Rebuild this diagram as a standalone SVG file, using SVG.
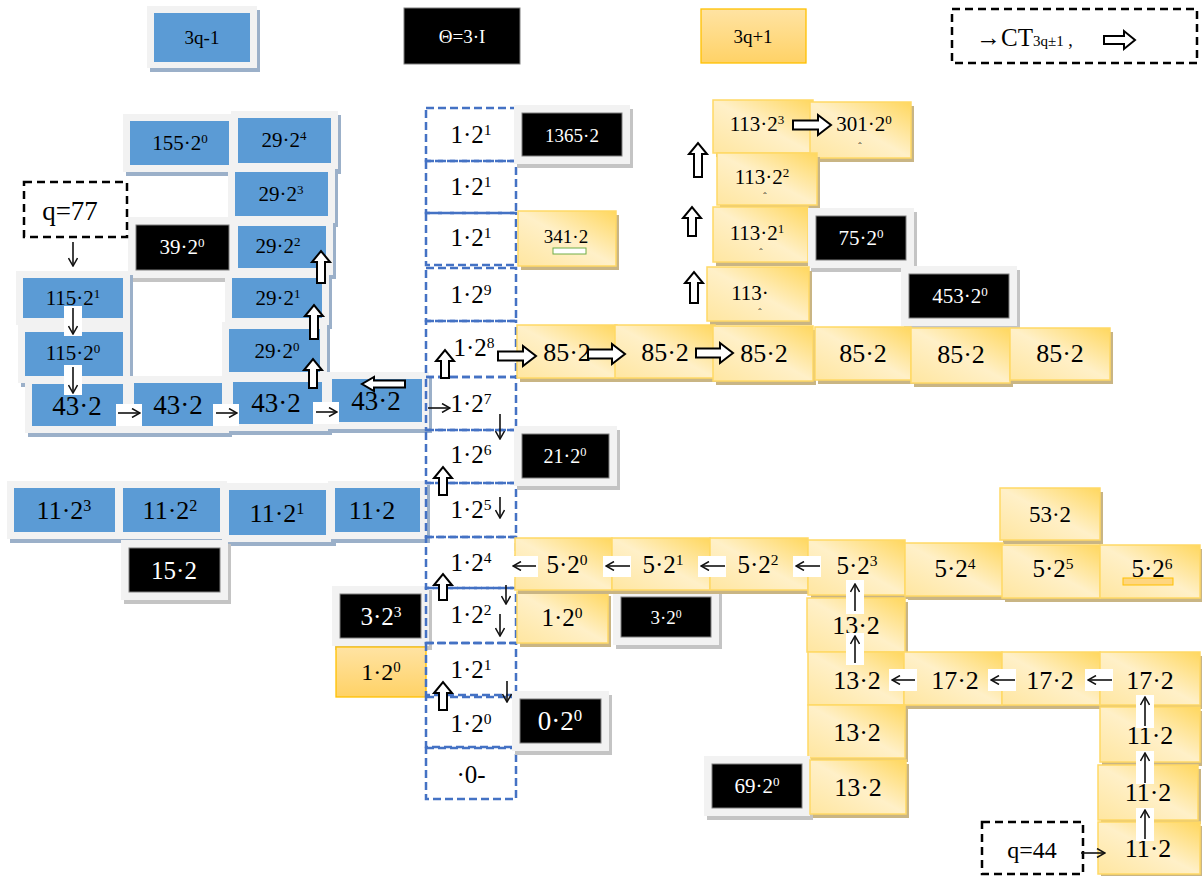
<svg xmlns="http://www.w3.org/2000/svg" width="1202" height="876" viewBox="0 0 1202 876">
<style>
.t{font-family:"Liberation Serif","Times New Roman",serif;text-anchor:middle;fill:#000}
.w{fill:#fff}
.s{font-size:62%;baseline-shift:super}
.bfr{fill:#f2f2f2}
.bsh{fill:#9bb0c9}
.bl{fill:#5b9bd5}
.kfr{fill:#f2f2f2}
.ksh{fill:#c4c4c4}
.k{fill:#000;stroke:#7f7f7f;stroke-width:1}
.osh{fill:#c9b584}
.or{fill:url(#og);stroke:#ffd966;stroke-width:1.5}
.po{fill:url(#pg);stroke:#ffc000;stroke-width:1.3}
.col{fill:none;stroke:#4472c4;stroke-width:2.5;stroke-dasharray:8 4}
.qd{fill:none;stroke:#000;stroke-width:2.5;stroke-dasharray:8 5}
.ln{stroke:#111;stroke-width:1.6;fill:none;marker-end:url(#ah)}
.bg{fill:#fff}
.blk{fill:#fff;stroke:#000;stroke-width:2}
</style>
<defs>
<linearGradient id="og" x1="1" y1="0" x2="0" y2="1">
<stop offset="0" stop-color="#ffd75e"/><stop offset="0.5" stop-color="#fff0c8"/><stop offset="1" stop-color="#ffe6a0"/>
</linearGradient>
<linearGradient id="pg" x1="0" y1="0" x2="0" y2="1">
<stop offset="0" stop-color="#ffe3a3"/><stop offset="1" stop-color="#ffd266"/>
</linearGradient>
<marker id="ah" viewBox="0 0 10 10" refX="9" refY="5" markerWidth="10" markerHeight="10" markerUnits="userSpaceOnUse" orient="auto">
<path d="M1,0.5 L9,5 L1,9.5" fill="none" stroke="#111" stroke-width="1.5"/>
</marker>
</defs>
<rect width="1202" height="876" fill="#fff"/>

<!-- legend -->
<g id="legend-blue"><rect class="bsh" x="150" y="10" width="110" height="62"/><rect class="bfr" x="147" y="6" width="110" height="62"/><rect class="bl" x="154" y="13" width="96" height="49"/><text class="t" x="202" y="44" font-size="19">3q-1</text></g>
<g id="legend-black"><rect class="k" x="404" y="8" width="116" height="56"/><text class="t w" x="462" y="43" font-size="19">Θ=3·I</text></g>
<g id="legend-orange"><rect class="po" x="701" y="9" width="105" height="54"/><text class="t" x="753" y="43" font-size="19">3q+1</text></g>
<g id="legend-ct"><rect class="qd" x="952" y="9" width="245" height="54"/><text x="976" y="46" font-family="Liberation Serif, serif" font-size="25">→CT<tspan font-size="15">3q±1</tspan><tspan font-size="18"> ,</tspan></text><path class="blk" d="M1104,36 H1124 V31 L1135,40 L1124,49 V44 H1104 Z"/></g>

<!-- blue nodes -->
<g id="n155"><rect class="bsh" x="126" y="118" width="113" height="58"/><rect class="bfr" x="123" y="114" width="113" height="58"/><rect class="bl" x="130" y="121" width="99" height="44"/><text class="t" x="180" y="150" font-size="21">155·2<tspan class="s">0</tspan></text></g>
<g id="n29-4"><rect class="bsh" x="234" y="115" width="107" height="59"/><rect class="bfr" x="231" y="111" width="107" height="59"/><rect class="bl" x="238" y="118" width="93" height="45"/><text class="t" x="284" y="147" font-size="21">29·2<tspan class="s">4</tspan></text></g>
<g id="n29-3"><rect class="bsh" x="231" y="169" width="107" height="58"/><rect class="bfr" x="228" y="165" width="107" height="58"/><rect class="bl" x="235" y="172" width="93" height="44"/><text class="t" x="281" y="201" font-size="21">29·2<tspan class="s">3</tspan></text></g>
<g id="n39"><rect class="ksh" x="131" y="221" width="109" height="61"/><rect class="kfr" x="128" y="217" width="109" height="61"/><rect class="k" x="136" y="225" width="93" height="45"/><text class="t w" x="182" y="254" font-size="21">39·2<tspan class="s">0</tspan></text></g>
<g id="n29-2"><rect class="bsh" x="234" y="223" width="102" height="56"/><rect class="bfr" x="231" y="219" width="102" height="56"/><rect class="bl" x="238" y="226" width="88" height="42"/><text class="t" x="278" y="253" font-size="21">29·2<tspan class="s">2</tspan></text></g>
<g id="n29-1"><rect class="bsh" x="228" y="275" width="104" height="54"/><rect class="bfr" x="225" y="271" width="104" height="54"/><rect class="bl" x="232" y="278" width="90" height="40"/><text class="t" x="278" y="305" font-size="21">29·2<tspan class="s">1</tspan></text></g>
<g id="n29-0"><rect class="bsh" x="225" y="326" width="105" height="57"/><rect class="bfr" x="222" y="322" width="105" height="57"/><rect class="bl" x="229" y="329" width="91" height="43"/><text class="t" x="277" y="358" font-size="21">29·2<tspan class="s">0</tspan></text></g>
<g id="n115-1"><rect class="bsh" x="19" y="275" width="114" height="54"/><rect class="bfr" x="16" y="271" width="114" height="54"/><rect class="bl" x="23" y="278" width="100" height="40"/><text class="t" x="73" y="305" font-size="21">115·2<tspan class="s">1</tspan></text></g>
<g id="n115-0"><rect class="bsh" x="21" y="329" width="112" height="58"/><rect class="bfr" x="18" y="325" width="112" height="58"/><rect class="bl" x="25" y="332" width="98" height="44"/><text class="t" x="73" y="360" font-size="21">115·2<tspan class="s">0</tspan></text></g>
<g id="n43a"><rect class="bsh" x="28" y="381" width="105" height="56"/><rect class="bfr" x="25" y="377" width="105" height="56"/><rect class="bl" x="32" y="384" width="91" height="42"/><text class="t" x="77" y="415" font-size="27">43·2</text></g>
<g id="n43b"><rect class="bsh" x="130" y="380" width="102" height="57"/><rect class="bfr" x="127" y="376" width="102" height="57"/><rect class="bl" x="134" y="383" width="88" height="43"/><text class="t" x="178" y="414" font-size="27">43·2</text></g>
<g id="n43c"><rect class="bsh" x="229" y="379" width="103" height="56"/><rect class="bfr" x="226" y="375" width="103" height="56"/><rect class="bl" x="233" y="382" width="89" height="42"/><text class="t" x="276" y="412" font-size="27">43·2</text></g>
<g id="n43d"><rect class="bsh" x="328" y="376" width="104" height="57"/><rect class="bfr" x="325" y="372" width="104" height="57"/><rect class="bl" x="332" y="379" width="90" height="43"/><text class="t" x="376" y="410" font-size="27">43·2</text></g>
<g id="n11-3"><rect class="bsh" x="10" y="485" width="115" height="58"/><rect class="bfr" x="7" y="481" width="115" height="58"/><rect class="bl" x="14" y="488" width="101" height="44"/><text class="t" x="64" y="519" font-size="26">11·2<tspan class="s">3</tspan></text></g>
<g id="n11-2"><rect class="bsh" x="119" y="485" width="111" height="58"/><rect class="bfr" x="116" y="481" width="111" height="58"/><rect class="bl" x="123" y="488" width="97" height="44"/><text class="t" x="170" y="519" font-size="26">11·2<tspan class="s">2</tspan></text></g>
<g id="n11-1"><rect class="bsh" x="225" y="487" width="111" height="59"/><rect class="bfr" x="222" y="483" width="111" height="59"/><rect class="bl" x="229" y="490" width="97" height="45"/><text class="t" x="277" y="522" font-size="26">11·2<tspan class="s">1</tspan></text></g>
<g id="n11-l"><rect class="bsh" x="331" y="485" width="99" height="58"/><rect class="bfr" x="328" y="481" width="99" height="58"/><rect class="bl" x="335" y="488" width="85" height="44"/><text class="t" x="372" y="519" font-size="26">11·2</text></g>
<g id="n15"><rect class="ksh" x="124" y="544" width="107" height="60"/><rect class="kfr" x="121" y="540" width="107" height="60"/><rect class="k" x="129" y="548" width="91" height="44"/><text class="t w" x="174" y="579" font-size="25">15·2</text></g>
<g id="n3-3"><rect class="ksh" x="335" y="590" width="97" height="60"/><rect class="kfr" x="332" y="586" width="97" height="60"/><rect class="k" x="340" y="594" width="81" height="44"/><text class="t w" x="381" y="625" font-size="25">3·2<tspan class="s">3</tspan></text></g>
<g id="n1-0-left"><rect class="po" x="336" y="647" width="90" height="50"/><text class="t" x="381" y="680" font-size="24">1·2<tspan class="s">0</tspan></text></g>
<g id="q77"><rect class="qd" x="24" y="182" width="103" height="55"/><text class="t" x="70" y="220" font-size="27">q=77</text></g>

<!-- central column -->
<g id="c1"><rect class="col" x="426" y="108" width="90" height="53"/><text class="t" x="471" y="143" font-size="25">1·2<tspan class="s">1</tspan></text></g>
<g id="c2"><rect class="col" x="426" y="161" width="90" height="52"/><text class="t" x="471" y="195" font-size="25">1·2<tspan class="s">1</tspan></text></g>
<g id="c3"><rect class="col" x="426" y="213" width="90" height="52"/><text class="t" x="471" y="246" font-size="25">1·2<tspan class="s">1</tspan></text></g>
<g id="c4"><rect class="col" x="426" y="268" width="90" height="53"/><text class="t" x="471" y="303" font-size="25">1·2<tspan class="s">9</tspan></text></g>
<g id="c5"><rect class="col" x="426" y="321" width="90" height="56"/><text class="t" x="474" y="356" font-size="25">1·2<tspan class="s">8</tspan></text></g>
<g id="c6"><rect class="col" x="426" y="377" width="90" height="53"/><text class="t" x="471" y="412" font-size="25">1·2<tspan class="s">7</tspan></text></g>
<g id="c7"><rect class="col" x="426" y="430" width="90" height="53"/><text class="t" x="471" y="463" font-size="25">1·2<tspan class="s">6</tspan></text></g>
<g id="c8"><rect class="col" x="426" y="483" width="90" height="54"/><text class="t" x="471" y="518" font-size="25">1·2<tspan class="s">5</tspan></text></g>
<g id="c9"><rect class="col" x="426" y="537" width="90" height="51"/><text class="t" x="471" y="571" font-size="25">1·2<tspan class="s">4</tspan></text></g>
<g id="c10"><rect class="col" x="426" y="588" width="90" height="55"/><text class="t" x="471" y="623" font-size="25">1·2<tspan class="s">2</tspan></text></g>
<g id="c11"><rect class="col" x="426" y="643" width="90" height="52"/><text class="t" x="471" y="678" font-size="25">1·2<tspan class="s">1</tspan></text></g>
<g id="c12"><rect class="col" x="426" y="697" width="90" height="50"/><text class="t" x="471" y="732" font-size="25">1·2<tspan class="s">0</tspan></text></g>
<g id="c13"><rect class="col" x="426" y="748" width="90" height="51"/><text class="t" x="471" y="783" font-size="25">·0-</text></g>

<!-- right nodes -->
<g id="n1365"><rect class="ksh" x="517" y="109" width="116" height="59"/><rect class="kfr" x="514" y="105" width="116" height="59"/><rect class="k" x="522" y="113" width="100" height="43"/><text class="t w" x="572" y="142" font-size="19">1365·2</text></g>
<g id="n341"><rect class="osh" x="521" y="215" width="98" height="55"/><rect class="or" x="518" y="211" width="98" height="55"/><text class="t" x="566" y="243" font-size="19">341·2</text><rect x="553" y="248" width="33" height="6" fill="#fff" stroke="#70ad47" stroke-width="1"/></g>
<g id="n21"><rect class="ksh" x="517" y="430" width="103" height="60"/><rect class="kfr" x="514" y="426" width="103" height="60"/><rect class="k" x="522" y="434" width="87" height="44"/><text class="t w" x="565" y="463" font-size="20">21·2<tspan class="s">0</tspan></text></g>
<g id="n1-0-right"><rect class="osh" x="520" y="596" width="91" height="51"/><rect class="or" x="517" y="592" width="91" height="51"/><text class="t" x="562" y="626" font-size="25">1·2<tspan class="s">0</tspan></text></g>
<g id="n3-0"><rect class="ksh" x="616" y="593" width="106" height="56"/><rect class="kfr" x="613" y="589" width="106" height="56"/><rect class="k" x="621" y="597" width="90" height="40"/><text class="t w" x="666" y="624" font-size="19">3·2<tspan class="s">0</tspan></text></g>
<g id="n0-0"><rect class="ksh" x="515" y="695" width="97" height="60"/><rect class="kfr" x="512" y="691" width="97" height="60"/><rect class="k" x="520" y="699" width="81" height="44"/><text class="t w" x="560" y="730" font-size="27">0·2<tspan class="s">0</tspan></text></g>

<g id="n113-3"><rect class="osh" x="716" y="104" width="100" height="53"/><rect class="or" x="713" y="100" width="100" height="53"/><text class="t" x="757" y="131" font-size="21">113·2<tspan class="s">3</tspan></text></g>
<g id="n301"><rect class="osh" x="813" y="106" width="101" height="56"/><rect class="or" x="810" y="102" width="101" height="56"/><text class="t" x="864" y="131" font-size="21">301·2<tspan class="s">0</tspan></text><text class="t" x="860" y="150" font-size="10">ˆ</text></g>
<g id="n113-2"><rect class="osh" x="720" y="157" width="100" height="52"/><rect class="or" x="717" y="153" width="100" height="52"/><text class="t" x="762" y="184" font-size="21">113·2<tspan class="s">2</tspan></text><text class="t" x="765" y="200" font-size="10">ˆ</text></g>
<g id="n113-1"><rect class="osh" x="716" y="211" width="95" height="55"/><rect class="or" x="713" y="207" width="95" height="55"/><text class="t" x="757" y="240" font-size="21">113·2<tspan class="s">1</tspan></text><text class="t" x="761" y="256" font-size="10">ˆ</text></g>
<g id="n75"><rect class="ksh" x="811" y="212" width="106" height="60"/><rect class="kfr" x="808" y="208" width="106" height="60"/><rect class="k" x="816" y="216" width="90" height="44"/><text class="t w" x="861" y="245" font-size="21">75·2<tspan class="s">0</tspan></text></g>
<g id="n113"><rect class="osh" x="710" y="271" width="102" height="54"/><rect class="or" x="707" y="267" width="102" height="54"/><text class="t" x="750" y="300" font-size="21">113·</text><text class="t" x="760" y="316" font-size="10">ˆ</text></g>
<g id="n453"><rect class="ksh" x="904" y="270" width="116" height="60"/><rect class="kfr" x="901" y="266" width="116" height="60"/><rect class="k" x="909" y="274" width="100" height="44"/><text class="t w" x="960" y="303" font-size="21">453·2<tspan class="s">0</tspan></text></g>

<g id="n85a"><rect class="osh" x="520" y="329" width="100" height="53"/><rect class="or" x="517" y="325" width="100" height="53"/><text class="t" x="567" y="361" font-size="26">85·2</text></g>
<g id="n85b"><rect class="osh" x="618" y="329" width="100" height="53"/><rect class="or" x="615" y="325" width="100" height="53"/><text class="t" x="665" y="361" font-size="26">85·2</text></g>
<g id="n85c"><rect class="osh" x="716" y="330" width="100" height="55"/><rect class="or" x="713" y="326" width="100" height="55"/><text class="t" x="764" y="362" font-size="26">85·2</text></g>
<g id="n85d"><rect class="osh" x="818" y="331" width="96" height="53"/><rect class="or" x="815" y="327" width="96" height="53"/><text class="t" x="863" y="362" font-size="26">85·2</text></g>
<g id="n85e"><rect class="osh" x="914" y="332" width="99" height="55"/><rect class="or" x="911" y="328" width="99" height="55"/><text class="t" x="961" y="363" font-size="26">85·2</text></g>
<g id="n85f"><rect class="osh" x="1013" y="332" width="100" height="52"/><rect class="or" x="1010" y="328" width="100" height="52"/><text class="t" x="1060" y="362" font-size="26">85·2</text></g>

<g id="n53"><rect class="osh" x="1003" y="492" width="100" height="52"/><rect class="or" x="1000" y="488" width="100" height="52"/><text class="t" x="1050" y="522" font-size="23">53·2</text></g>
<g id="n5-0"><rect class="osh" x="518" y="542" width="97" height="52"/><rect class="or" x="515" y="538" width="97" height="52"/><text class="t" x="567" y="573" font-size="25">5·2<tspan class="s">0</tspan></text></g>
<g id="n5-1"><rect class="osh" x="615" y="542" width="98" height="52"/><rect class="or" x="612" y="538" width="98" height="52"/><text class="t" x="663" y="573" font-size="25">5·2<tspan class="s">1</tspan></text></g>
<g id="n5-2"><rect class="osh" x="713" y="542" width="98" height="52"/><rect class="or" x="710" y="538" width="98" height="52"/><text class="t" x="758" y="573" font-size="25">5·2<tspan class="s">2</tspan></text></g>
<g id="n5-3"><rect class="osh" x="811" y="544" width="97" height="55"/><rect class="or" x="808" y="540" width="97" height="55"/><text class="t" x="857" y="574" font-size="25">5·2<tspan class="s">3</tspan></text></g>
<g id="n5-4"><rect class="osh" x="908" y="547" width="98" height="53"/><rect class="or" x="905" y="543" width="98" height="53"/><text class="t" x="955" y="577" font-size="25">5·2<tspan class="s">4</tspan></text></g>
<g id="n5-5"><rect class="osh" x="1005" y="549" width="98" height="53"/><rect class="or" x="1002" y="545" width="98" height="53"/><text class="t" x="1053" y="577" font-size="25">5·2<tspan class="s">5</tspan></text></g>
<g id="n5-6"><rect class="osh" x="1103" y="549" width="99" height="53"/><rect class="or" x="1100" y="545" width="100" height="53"/><rect x="1123" y="578" width="50" height="7" fill="#ffd680" stroke="#ffc000" stroke-width="1"/><text class="t" x="1152" y="577" font-size="25">5·2<tspan class="s">6</tspan></text></g>

<g id="n13a"><rect class="osh" x="810" y="602" width="98" height="54"/><rect class="or" x="807" y="598" width="98" height="54"/><text class="t" x="856" y="634" font-size="26">13·2</text></g>
<g id="n13b"><rect class="osh" x="811" y="656" width="96" height="53"/><rect class="or" x="808" y="652" width="96" height="53"/><text class="t" x="857" y="689" font-size="26">13·2</text></g>
<g id="n17a"><rect class="osh" x="907" y="656" width="98" height="53"/><rect class="or" x="904" y="652" width="98" height="53"/><text class="t" x="955" y="689" font-size="26">17·2</text></g>
<g id="n17b"><rect class="osh" x="1005" y="656" width="98" height="53"/><rect class="or" x="1002" y="652" width="98" height="53"/><text class="t" x="1050" y="689" font-size="26">17·2</text></g>
<g id="n17c"><rect class="osh" x="1102" y="656" width="100" height="53"/><rect class="or" x="1100" y="652" width="100" height="53"/><text class="t" x="1150" y="689" font-size="26">17·2</text></g>
<g id="n13c"><rect class="osh" x="811" y="709" width="97" height="53"/><rect class="or" x="808" y="705" width="97" height="53"/><text class="t" x="857" y="741" font-size="26">13·2</text></g>
<g id="n69"><rect class="ksh" x="707" y="760" width="106" height="60"/><rect class="kfr" x="704" y="756" width="106" height="60"/><rect class="k" x="712" y="764" width="90" height="44"/><text class="t w" x="757" y="793" font-size="21">69·2<tspan class="s">0</tspan></text></g>
<g id="n13d"><rect class="osh" x="813" y="764" width="96" height="54"/><rect class="or" x="810" y="760" width="96" height="54"/><text class="t" x="858" y="796" font-size="26">13·2</text></g>
<g id="n11a"><rect class="osh" x="1102" y="711" width="100" height="55"/><rect class="or" x="1100" y="707" width="100" height="55"/><text class="t" x="1150" y="744" font-size="26">11·2</text></g>
<g id="n11b"><rect class="osh" x="1101" y="769" width="100" height="55"/><rect class="or" x="1098" y="765" width="100" height="55"/><text class="t" x="1148" y="801" font-size="26">11·2</text></g>
<g id="n11c"><rect class="osh" x="1101" y="826" width="101" height="52"/><rect class="or" x="1098" y="822" width="102" height="52"/><text class="t" x="1148" y="857" font-size="26">11·2</text></g>
<g id="q44"><rect class="qd" x="982" y="822" width="101" height="52"/><text class="t" x="1032" y="858" font-size="24">q=44</text></g>

<!-- connectors -->
<g id="connectors">
<rect class="bg" x="64" y="306" width="18" height="30"/>
<rect class="bg" x="64" y="365" width="18" height="30"/>
<rect class="bg" x="116" y="404" width="26" height="22"/>
<rect class="bg" x="213" y="404" width="26" height="22"/>
<rect class="bg" x="313" y="402" width="26" height="22"/>
<rect class="bg" x="511" y="556" width="27" height="21"/>
<rect class="bg" x="603" y="556" width="28" height="21"/>
<rect class="bg" x="698" y="556" width="28" height="21"/>
<rect class="bg" x="793" y="556" width="28" height="21"/>
<rect class="bg" x="846" y="580" width="18" height="34"/>
<rect class="bg" x="846" y="633" width="18" height="32"/>
<rect class="bg" x="889" y="669" width="28" height="22"/>
<rect class="bg" x="988" y="669" width="28" height="22"/>
<rect class="bg" x="1085" y="669" width="28" height="22"/>
<rect class="bg" x="1136" y="695" width="18" height="33"/>
<rect class="bg" x="1136" y="751" width="18" height="33"/>
<rect class="bg" x="1136" y="808" width="18" height="33"/>
<path class="ln" d="M73,242 V266"/>
<path class="ln" d="M73,308 V334"/>
<path class="ln" d="M73,367 V393"/>
<path class="ln" d="M118,413 H140"/>
<path class="ln" d="M216,413 H237"/>
<path class="ln" d="M316,412 H337"/>
<path class="ln" d="M428,408 H450"/>
<path class="ln" d="M500,414 V439"/>
<path class="ln" d="M500,497 V518"/>
<path class="ln" d="M536,566 H513"/>
<path class="ln" d="M630,566 H606"/>
<path class="ln" d="M725,566 H701"/>
<path class="ln" d="M820,566 H796"/>
<path class="ln" d="M506,585 V604"/>
<path class="ln" d="M500,614 V636"/>
<path class="ln" d="M507,681 V702"/>
<path class="ln" d="M855,611 V584"/>
<path class="ln" d="M855,663 V636"/>
<path class="ln" d="M915,680 H892"/>
<path class="ln" d="M1015,680 H991"/>
<path class="ln" d="M1112,680 H1088"/>
<path class="ln" d="M1145,726 V697"/>
<path class="ln" d="M1145,783 V753"/>
<path class="ln" d="M1145,839 V810"/>
<path class="ln" d="M1081,853 H1105"/>
<path class="blk" d="M317,283 V262 H312 L321,251 L330,262 H325 V283 Z"/>
<path class="blk" d="M310,339 V316 H305 L314,305 L323,316 H318 V339 Z"/>
<path class="blk" d="M309,388 V370 H304 L313,359 L322,370 H317 V388 Z"/>
<path class="blk" d="M405,380.5 H374 V377 L362,384 L374,391 V387.5 H405 Z"/>
<path class="blk" d="M441,378 V361 H436 L445,350 L454,361 H449 V378 Z"/>
<path class="blk" d="M498,351.5 H523 V346 L536,356 L523,366 V360.5 H498 Z"/>
<path class="blk" d="M588,349.5 H612 V344 L625,354 L612,364 V358.5 H588 Z"/>
<path class="blk" d="M696,348.5 H720 V343 L733,353 L720,363 V357.5 H696 Z"/>
<path class="blk" d="M694,177 V154 H689 L698,143 L707,154 H702 V177 Z"/>
<path class="blk" d="M688,236 V218 H683 L692,207 L701,218 H696 V236 Z"/>
<path class="blk" d="M690,303 V283 H685 L694,272 L703,283 H698 V303 Z"/>
<path class="blk" d="M793,120.5 H818 V115 L831,125 L818,135 V129.5 H793 Z"/>
<path class="blk" d="M439,495 V478 H434 L443,467 L452,478 H447 V495 Z"/>
<path class="blk" d="M439,600 V585 H434 L443,574 L452,585 H447 V600 Z"/>
<path class="blk" d="M439,710 V693 H434 L443,682 L452,693 H447 V710 Z"/>
</g>
</svg>
